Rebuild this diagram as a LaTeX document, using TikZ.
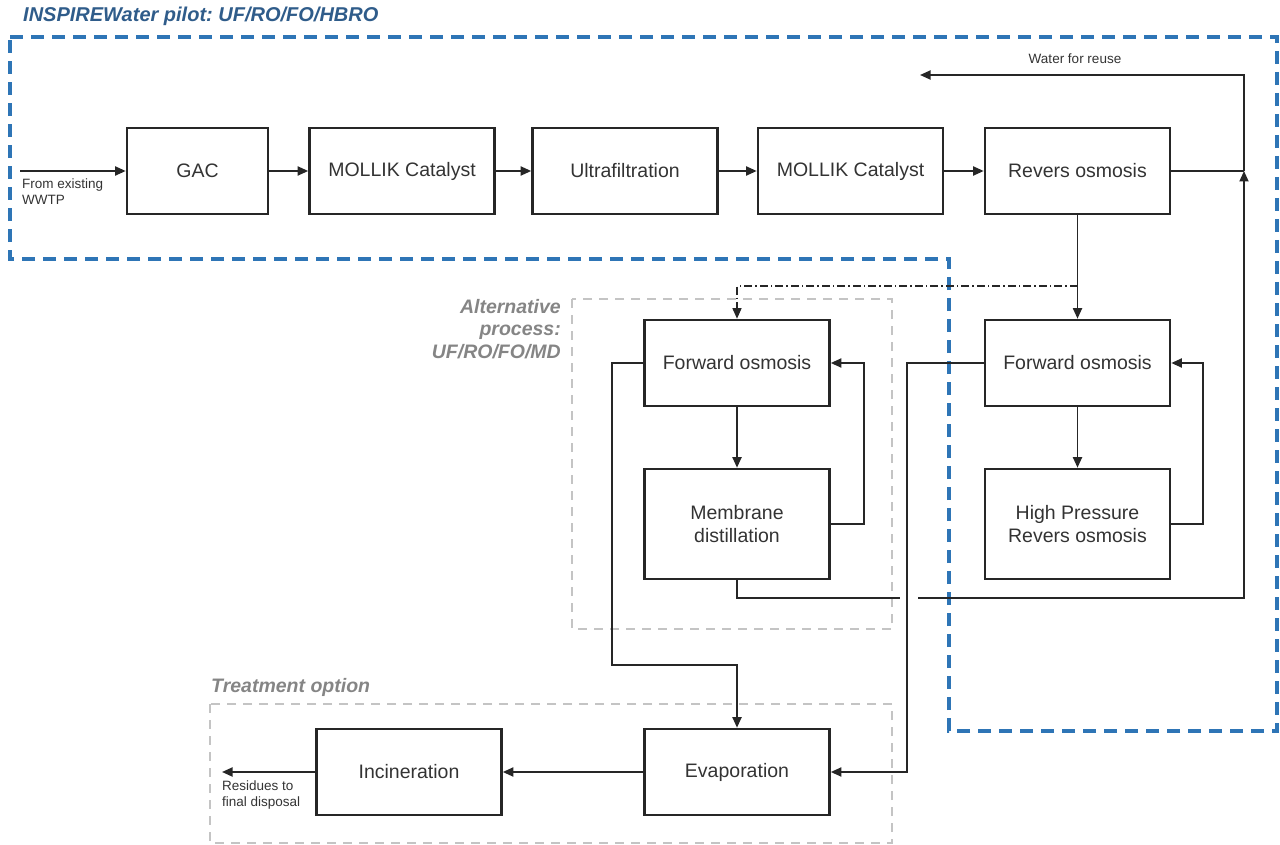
\documentclass[tikz,border=0pt]{standalone}
\usepackage{fontspec}
\setmainfont{Liberation Sans}
\usetikzlibrary{arrows.meta}
\definecolor{pilotblue}{HTML}{2E75B6}
\definecolor{titleblue}{HTML}{2F5C8A}
\definecolor{optgray}{HTML}{C4C4C4}
\definecolor{labgray}{HTML}{858585}
\definecolor{txt}{HTML}{333333}
\begin{document}
\frenchspacing
\begin{tikzpicture}[x=1pt,y=-1pt,
  procbox/.style={draw=black!85, line width=2.6pt, rectangle, minimum height=86pt, minimum width=185pt,
    align=center, text=txt, font=\fontsize{19.5}{23.5}\selectfont, inner sep=0pt},
  tallbox/.style={procbox, minimum height=110pt},
  conn/.style={draw=black!85, line width=1.8pt},
  arr/.style={conn, -{Triangle[length=10.5pt,width=9pt]}},
  dashdot/.style={conn, line width=1.3pt, dash pattern=on 8pt off 3pt on 1.5pt off 3pt},
  pilotregion/.style={draw=pilotblue, line width=3.5pt, dash pattern=on 13pt off 8pt},
  optregion/.style={draw=optgray, line width=2pt, dash pattern=on 9pt off 7pt},
  small/.style={text=txt, font=\fontsize{13.5}{15.5}\selectfont, inner sep=0pt, align=left},
  grouplabel/.style={text=labgray, font=\fontsize{19.5}{22.5}\selectfont\bfseries\itshape, inner sep=0pt},
]
\useasboundingbox (0,0) rectangle (1280,845);

% regions
\draw[pilotregion] (10,37) -- (1277,37) -- (1277,731) -- (949,731) -- (949,259) -- (10,259) -- cycle;
\draw[optregion] (572,299) rectangle (892,629);
\draw[optregion] (210,704) rectangle (892,843);

% group labels
\node[anchor=west, text=titleblue, font=\fontsize{20}{23}\selectfont\bfseries\itshape, inner sep=0pt] (title) at (23,16) {INSPIREWater pilot: UF/RO/FO/HBRO};
\node[grouplabel, anchor=north east, align=right] (altlab) at (561,299) {Alternative\\process:\\UF/RO/FO/MD};
\node[grouplabel, anchor=west] (trtlab) at (211,687) {Treatment option};

% boxes
\node[procbox, minimum width=141pt] (gac) at (197.5,171) {GAC};
\node[procbox] (m1) at (402,171) {MOLLIK Catalyst};
\node[procbox] (uf) at (625,171) {Ultrafiltration};
\node[procbox] (m2) at (850.5,171) {MOLLIK Catalyst};
\node[procbox] (ro) at (1077.5,171) {Revers osmosis};
\node[procbox] (fol) at (737,363) {Forward osmosis};
\node[tallbox] (md) at (737,524) {Membrane\\distillation};
\node[procbox] (for) at (1077.5,363) {Forward osmosis};
\node[tallbox] (hpro) at (1077.5,524) {High Pressure\\Revers osmosis};
\node[procbox] (eva) at (737,772) {Evaporation};
\node[procbox] (inc) at (409,772) {Incineration};

% coordinates
\coordinate (src) at (20,171);
\coordinate (jn) at (1244,171);
\coordinate (top) at (1244,75);
\coordinate (reuse) at (920,75);
\coordinate (dd) at (1077.5,286);
\coordinate (gapL) at (900,598);
\coordinate (gapR) at (918,598);
\coordinate (res) at (222,772);

% labels
\node[small, anchor=south] (wlab) at (1075,64) {Water for reuse};
\node[small, anchor=north west] (srclab) at (22,179) {From existing\\WWTP};
\node[small, anchor=north west] (reslab) at (222,781) {Residues to\\final disposal};

% main line
\draw[arr] (src) -- (gac.west);
\draw[arr] (gac.east) -- (m1.west);
\draw[arr] (m1.east) -- (uf.west);
\draw[arr] (uf.east) -- (m2.west);
\draw[arr] (m2.east) -- (ro.west);
\draw[conn] (ro.east) -- (jn);
\draw[arr] (jn) -- (top) -- (reuse);

% RO to FO
\draw[arr] (ro.south) -- (for.north);
\draw[dashdot, -{Triangle[length=10.5pt,width=9pt]}] (dd) -| (fol.north);

% alternative loop
\draw[arr] (fol.south) -- (md.north);
\draw[arr] (md.east) -- ++(33,0) |- (fol.east);
\draw[arr] (fol.west) -| (612,665) -| (eva.north);

% HBRO loop
\draw[arr] (for.south) -- (hpro.north);
\draw[arr] (hpro.east) -- ++(32,0) |- (for.east);

% permeate return
\draw[conn] (md.south) |- (gapL);
\draw[arr] (gapR) -| (jn);

% concentrate to evaporation
\draw[arr] (for.west) -| (907,772) -- (eva.east);

% treatment
\draw[arr] (eva.west) -- (inc.east);
\draw[arr] (inc.west) -- (res);
\end{tikzpicture}
\end{document}
